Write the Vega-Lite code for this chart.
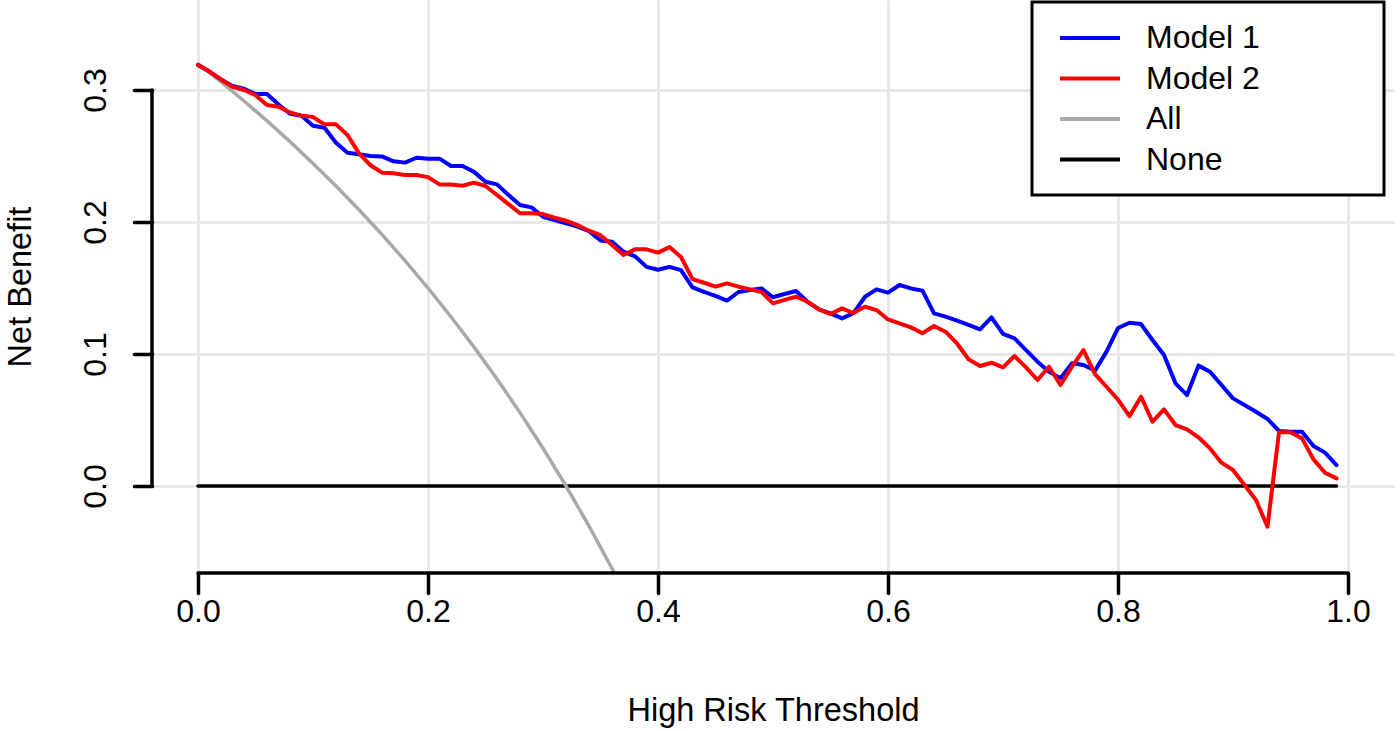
{
  "$schema": "https://vega.github.io/schema/vega-lite/v6.json",
  "autosize": {"type": "none"},
  "padding": {"left": 152, "top": 0, "right": 6, "bottom": 158},
  "width": 1242,
  "height": 573,
  "background": "white",
  "datasets": {
    "curves": [
      {"t":0.00,"series":"Model 1","nb":0.319},{"t":0.01,"series":"Model 1","nb":0.314},{"t":0.02,"series":"Model 1","nb":0.308},{"t":0.03,"series":"Model 1","nb":0.303},{"t":0.04,"series":"Model 1","nb":0.301},{"t":0.05,"series":"Model 1","nb":0.297},{"t":0.06,"series":"Model 1","nb":0.297},{"t":0.07,"series":"Model 1","nb":0.289},{"t":0.08,"series":"Model 1","nb":0.282},{"t":0.09,"series":"Model 1","nb":0.2805},
      {"t":0.10,"series":"Model 1","nb":0.273},{"t":0.11,"series":"Model 1","nb":0.2714},{"t":0.12,"series":"Model 1","nb":0.260},{"t":0.13,"series":"Model 1","nb":0.2525},{"t":0.14,"series":"Model 1","nb":0.2513},{"t":0.15,"series":"Model 1","nb":0.250},{"t":0.16,"series":"Model 1","nb":0.2497},{"t":0.17,"series":"Model 1","nb":0.246},{"t":0.18,"series":"Model 1","nb":0.245},{"t":0.19,"series":"Model 1","nb":0.2487},
      {"t":0.20,"series":"Model 1","nb":0.248},{"t":0.21,"series":"Model 1","nb":0.248},{"t":0.22,"series":"Model 1","nb":0.2424},{"t":0.23,"series":"Model 1","nb":0.2424},{"t":0.24,"series":"Model 1","nb":0.238},{"t":0.25,"series":"Model 1","nb":0.2305},{"t":0.26,"series":"Model 1","nb":0.2285},{"t":0.27,"series":"Model 1","nb":0.2205},{"t":0.28,"series":"Model 1","nb":0.2129},{"t":0.29,"series":"Model 1","nb":0.2111},
      {"t":0.30,"series":"Model 1","nb":0.204},{"t":0.31,"series":"Model 1","nb":0.2015},{"t":0.32,"series":"Model 1","nb":0.199},{"t":0.33,"series":"Model 1","nb":0.1965},{"t":0.34,"series":"Model 1","nb":0.193},{"t":0.35,"series":"Model 1","nb":0.186},{"t":0.36,"series":"Model 1","nb":0.185},{"t":0.37,"series":"Model 1","nb":0.1775},{"t":0.38,"series":"Model 1","nb":0.174},{"t":0.39,"series":"Model 1","nb":0.166},
      {"t":0.40,"series":"Model 1","nb":0.1638},{"t":0.41,"series":"Model 1","nb":0.166},{"t":0.42,"series":"Model 1","nb":0.1635},{"t":0.43,"series":"Model 1","nb":0.1505},{"t":0.44,"series":"Model 1","nb":0.147},{"t":0.45,"series":"Model 1","nb":0.144},{"t":0.46,"series":"Model 1","nb":0.1405},{"t":0.47,"series":"Model 1","nb":0.147},{"t":0.48,"series":"Model 1","nb":0.1485},{"t":0.49,"series":"Model 1","nb":0.1497},
      {"t":0.50,"series":"Model 1","nb":0.143},{"t":0.51,"series":"Model 1","nb":0.1455},{"t":0.52,"series":"Model 1","nb":0.1477},{"t":0.53,"series":"Model 1","nb":0.1396},{"t":0.54,"series":"Model 1","nb":0.1338},{"t":0.55,"series":"Model 1","nb":0.1308},{"t":0.56,"series":"Model 1","nb":0.127},{"t":0.57,"series":"Model 1","nb":0.131},{"t":0.58,"series":"Model 1","nb":0.1434},{"t":0.59,"series":"Model 1","nb":0.149},
      {"t":0.60,"series":"Model 1","nb":0.1465},{"t":0.61,"series":"Model 1","nb":0.1523},{"t":0.62,"series":"Model 1","nb":0.1497},{"t":0.63,"series":"Model 1","nb":0.148},{"t":0.64,"series":"Model 1","nb":0.1308},{"t":0.65,"series":"Model 1","nb":0.1283},{"t":0.66,"series":"Model 1","nb":0.1253},{"t":0.67,"series":"Model 1","nb":0.122},{"t":0.68,"series":"Model 1","nb":0.1187},{"t":0.69,"series":"Model 1","nb":0.1278},
      {"t":0.70,"series":"Model 1","nb":0.1152},{"t":0.71,"series":"Model 1","nb":0.1119},{"t":0.72,"series":"Model 1","nb":0.103},{"t":0.73,"series":"Model 1","nb":0.0942},{"t":0.74,"series":"Model 1","nb":0.0866},{"t":0.75,"series":"Model 1","nb":0.0816},{"t":0.76,"series":"Model 1","nb":0.093},{"t":0.77,"series":"Model 1","nb":0.0917},{"t":0.78,"series":"Model 1","nb":0.0874},{"t":0.79,"series":"Model 1","nb":0.1018},
      {"t":0.80,"series":"Model 1","nb":0.1197},{"t":0.81,"series":"Model 1","nb":0.1237},{"t":0.82,"series":"Model 1","nb":0.1227},{"t":0.83,"series":"Model 1","nb":0.1106},{"t":0.84,"series":"Model 1","nb":0.0992},{"t":0.85,"series":"Model 1","nb":0.0778},{"t":0.86,"series":"Model 1","nb":0.0689},{"t":0.87,"series":"Model 1","nb":0.0912},{"t":0.88,"series":"Model 1","nb":0.0866},{"t":0.89,"series":"Model 1","nb":0.0765},
      {"t":0.90,"series":"Model 1","nb":0.0664},{"t":0.91,"series":"Model 1","nb":0.0614},{"t":0.92,"series":"Model 1","nb":0.0563},{"t":0.93,"series":"Model 1","nb":0.0508},{"t":0.94,"series":"Model 1","nb":0.0417},{"t":0.95,"series":"Model 1","nb":0.0412},{"t":0.96,"series":"Model 1","nb":0.0412},{"t":0.97,"series":"Model 1","nb":0.0303},{"t":0.98,"series":"Model 1","nb":0.0253},{"t":0.99,"series":"Model 1","nb":0.0159},

      {"t":0.00,"series":"Model 2","nb":0.319},{"t":0.01,"series":"Model 2","nb":0.314},{"t":0.02,"series":"Model 2","nb":0.308},{"t":0.03,"series":"Model 2","nb":0.3025},{"t":0.04,"series":"Model 2","nb":0.300},{"t":0.05,"series":"Model 2","nb":0.296},{"t":0.06,"series":"Model 2","nb":0.2886},{"t":0.07,"series":"Model 2","nb":0.2874},{"t":0.08,"series":"Model 2","nb":0.283},{"t":0.09,"series":"Model 2","nb":0.2806},
      {"t":0.10,"series":"Model 2","nb":0.2795},{"t":0.11,"series":"Model 2","nb":0.274},{"t":0.12,"series":"Model 2","nb":0.274},{"t":0.13,"series":"Model 2","nb":0.2659},{"t":0.14,"series":"Model 2","nb":0.252},{"t":0.15,"series":"Model 2","nb":0.243},{"t":0.16,"series":"Model 2","nb":0.2374},{"t":0.17,"series":"Model 2","nb":0.237},{"t":0.18,"series":"Model 2","nb":0.2356},{"t":0.19,"series":"Model 2","nb":0.2356},
      {"t":0.20,"series":"Model 2","nb":0.234},{"t":0.21,"series":"Model 2","nb":0.2285},{"t":0.22,"series":"Model 2","nb":0.2285},{"t":0.23,"series":"Model 2","nb":0.2275},{"t":0.24,"series":"Model 2","nb":0.2298},{"t":0.25,"series":"Model 2","nb":0.2273},{"t":0.26,"series":"Model 2","nb":0.2205},{"t":0.27,"series":"Model 2","nb":0.2136},{"t":0.28,"series":"Model 2","nb":0.2066},{"t":0.29,"series":"Model 2","nb":0.2066},
      {"t":0.30,"series":"Model 2","nb":0.206},{"t":0.31,"series":"Model 2","nb":0.2033},{"t":0.32,"series":"Model 2","nb":0.201},{"t":0.33,"series":"Model 2","nb":0.1977},{"t":0.34,"series":"Model 2","nb":0.1934},{"t":0.35,"series":"Model 2","nb":0.190},{"t":0.36,"series":"Model 2","nb":0.1826},{"t":0.37,"series":"Model 2","nb":0.175},{"t":0.38,"series":"Model 2","nb":0.1793},{"t":0.39,"series":"Model 2","nb":0.1793},
      {"t":0.40,"series":"Model 2","nb":0.1768},{"t":0.41,"series":"Model 2","nb":0.181},{"t":0.42,"series":"Model 2","nb":0.1735},{"t":0.43,"series":"Model 2","nb":0.1567},{"t":0.44,"series":"Model 2","nb":0.154},{"t":0.45,"series":"Model 2","nb":0.151},{"t":0.46,"series":"Model 2","nb":0.1535},{"t":0.47,"series":"Model 2","nb":0.151},{"t":0.48,"series":"Model 2","nb":0.149},{"t":0.49,"series":"Model 2","nb":0.147},
      {"t":0.50,"series":"Model 2","nb":0.1384},{"t":0.51,"series":"Model 2","nb":0.141},{"t":0.52,"series":"Model 2","nb":0.1434},{"t":0.53,"series":"Model 2","nb":0.1396},{"t":0.54,"series":"Model 2","nb":0.1338},{"t":0.55,"series":"Model 2","nb":0.1303},{"t":0.56,"series":"Model 2","nb":0.1346},{"t":0.57,"series":"Model 2","nb":0.131},{"t":0.58,"series":"Model 2","nb":0.1359},{"t":0.59,"series":"Model 2","nb":0.1333},
      {"t":0.60,"series":"Model 2","nb":0.1262},{"t":0.61,"series":"Model 2","nb":0.1232},{"t":0.62,"series":"Model 2","nb":0.1202},{"t":0.63,"series":"Model 2","nb":0.1157},{"t":0.64,"series":"Model 2","nb":0.1212},{"t":0.65,"series":"Model 2","nb":0.1169},{"t":0.66,"series":"Model 2","nb":0.108},{"t":0.67,"series":"Model 2","nb":0.096},{"t":0.68,"series":"Model 2","nb":0.0909},{"t":0.69,"series":"Model 2","nb":0.0934},
      {"t":0.70,"series":"Model 2","nb":0.0899},{"t":0.71,"series":"Model 2","nb":0.0985},{"t":0.72,"series":"Model 2","nb":0.0899},{"t":0.73,"series":"Model 2","nb":0.0803},{"t":0.74,"series":"Model 2","nb":0.0904},{"t":0.75,"series":"Model 2","nb":0.0765},{"t":0.76,"series":"Model 2","nb":0.0904},{"t":0.77,"series":"Model 2","nb":0.103},{"t":0.78,"series":"Model 2","nb":0.0848},{"t":0.79,"series":"Model 2","nb":0.0752},
      {"t":0.80,"series":"Model 2","nb":0.0655},{"t":0.81,"series":"Model 2","nb":0.053},{"t":0.82,"series":"Model 2","nb":0.0677},{"t":0.83,"series":"Model 2","nb":0.0487},{"t":0.84,"series":"Model 2","nb":0.0581},{"t":0.85,"series":"Model 2","nb":0.0462},{"t":0.86,"series":"Model 2","nb":0.0429},{"t":0.87,"series":"Model 2","nb":0.0369},{"t":0.88,"series":"Model 2","nb":0.0285},{"t":0.89,"series":"Model 2","nb":0.0177},
      {"t":0.90,"series":"Model 2","nb":0.0121},{"t":0.91,"series":"Model 2","nb":0.0008},{"t":0.92,"series":"Model 2","nb":-0.0106},{"t":0.93,"series":"Model 2","nb":-0.0308},{"t":0.94,"series":"Model 2","nb":0.0407},{"t":0.95,"series":"Model 2","nb":0.0407},{"t":0.96,"series":"Model 2","nb":0.0361},{"t":0.97,"series":"Model 2","nb":0.0202},{"t":0.98,"series":"Model 2","nb":0.0101},{"t":0.99,"series":"Model 2","nb":0.0058},

      {"t":0.00,"series":"All","nb":0.32},{"t":0.02,"series":"All","nb":0.3061},{"t":0.04,"series":"All","nb":0.2917},{"t":0.06,"series":"All","nb":0.2766},{"t":0.08,"series":"All","nb":0.2609},{"t":0.10,"series":"All","nb":0.2444},{"t":0.12,"series":"All","nb":0.2273},{"t":0.14,"series":"All","nb":0.2093},{"t":0.16,"series":"All","nb":0.1905},{"t":0.18,"series":"All","nb":0.1707},
      {"t":0.20,"series":"All","nb":0.15},{"t":0.22,"series":"All","nb":0.1282},{"t":0.24,"series":"All","nb":0.1053},{"t":0.26,"series":"All","nb":0.0811},{"t":0.28,"series":"All","nb":0.0556},{"t":0.30,"series":"All","nb":0.0286},{"t":0.32,"series":"All","nb":0.0},{"t":0.34,"series":"All","nb":-0.0303},{"t":0.36,"series":"All","nb":-0.0625},{"t":0.38,"series":"All","nb":-0.0968},

      {"t":0.00,"series":"None","nb":0.0},{"t":0.99,"series":"None","nb":0.0}
    ]
  },
  "layer": [
    {
      "data": {"name": "curves"},
      "transform": [{"filter": "datum.series === 'None'"}],
      "mark": {"type": "line", "strokeWidth": 3.5, "clip": true, "strokeCap": "round"},
      "encoding": {
        "x": {"field": "t", "type": "quantitative",
              "scale": {"domain": [-0.04, 1.04], "nice": false, "zero": false},
              "axis": {"title": "High Risk Threshold", "values": [0, 0.2, 0.4, 0.6, 0.8, 1.0], "format": ".1f",
                       "tickSize": 20, "labelPadding": 3, "titleY": 137, "titleBaseline": "middle"}},
        "y": {"field": "nb", "type": "quantitative",
              "scale": {"domain": [-0.0659, 0.3682], "nice": false, "zero": false},
              "axis": {"title": "Net Benefit", "values": [0, 0.1, 0.2, 0.3], "format": ".1f",
                       "tickSize": 18, "labelAngle": 270, "labelAlign": "center", "labelBaseline": "middle",
                       "labelPadding": 39, "titleX": -132, "titleBaseline": "middle", "titleAngle": 270}},
        "color": {"field": "series", "type": "nominal",
                  "scale": {"domain": ["Model 1", "Model 2", "All", "None"], "range": ["#0000ff", "#ff0000", "#a9a9a9", "#000000"]},
                  "legend": {"title": " ", "titleOrient": "right", "titlePadding": 105, "titleFontSize": 32}}
      }
    },
    {
      "data": {"name": "curves"},
      "transform": [{"filter": "datum.series === 'All'"}],
      "mark": {"type": "line", "strokeWidth": 3.5, "clip": true, "strokeJoin": "round"},
      "encoding": {
        "x": {"field": "t", "type": "quantitative", "title": "High Risk Threshold"},
        "y": {"field": "nb", "type": "quantitative", "title": "Net Benefit"},
        "color": {"field": "series", "type": "nominal"}
      }
    },
    {
      "data": {"name": "curves"},
      "transform": [{"filter": "datum.series === 'Model 1'"}],
      "mark": {"type": "line", "strokeWidth": 4, "clip": true, "strokeJoin": "round", "strokeCap": "round"},
      "encoding": {
        "x": {"field": "t", "type": "quantitative", "title": "High Risk Threshold"},
        "y": {"field": "nb", "type": "quantitative", "title": "Net Benefit"},
        "color": {"field": "series", "type": "nominal"}
      }
    },
    {
      "data": {"name": "curves"},
      "transform": [{"filter": "datum.series === 'Model 2'"}],
      "mark": {"type": "line", "strokeWidth": 4, "clip": true, "strokeJoin": "round", "strokeCap": "round"},
      "encoding": {
        "x": {"field": "t", "type": "quantitative", "title": "High Risk Threshold"},
        "y": {"field": "nb", "type": "quantitative", "title": "Net Benefit"},
        "color": {"field": "series", "type": "nominal"}
      }
    },
    {
      "data": {"values": [{}]},
      "mark": {"type": "rule", "color": "black", "strokeWidth": 3.5, "strokeCap": "round"},
      "encoding": {
        "x": {"datum": -0.04, "type": "quantitative", "title": "High Risk Threshold"},
        "y": {"datum": 0, "type": "quantitative", "title": "Net Benefit"},
        "y2": {"datum": 0.3}
      }
    },
    {
      "data": {"values": [{}]},
      "mark": {"type": "rule", "color": "black", "strokeWidth": 3.5, "strokeCap": "round"},
      "encoding": {
        "x": {"datum": 0, "type": "quantitative", "title": "High Risk Threshold"},
        "x2": {"datum": 1.0},
        "y": {"datum": -0.0659, "type": "quantitative", "title": "Net Benefit"}
      }
    }
  ],
  "config": {
    "font": "Liberation Sans",
    "view": {"stroke": null},
    "axis": {
      "domain": false,
      "grid": true, "gridColor": "#e8e8e8", "gridWidth": 3,
      "ticks": true, "tickColor": "black", "tickWidth": 3.5, "tickCap": "round",
      "labelFontSize": 32, "labelColor": "black", "labelFlush": false, "labelOverlap": false,
      "titleFontSize": 32.5, "titleFontWeight": "normal", "titleColor": "black"
    },
    "legend": {
      "orient": "none", "legendX": 880, "legendY": 2,
      "strokeColor": "black", "strokeWidth": 3, "fillColor": "white",
      "padding": 19,
      "symbolType": "M-2,0H2", "symbolSize": 900, "symbolStrokeWidth": 4,
      "symbolOffset": 22, "labelOffset": 39, "rowPadding": 7.5,
      "labelFontSize": 32, "labelColor": "black"
    }
  }
}
